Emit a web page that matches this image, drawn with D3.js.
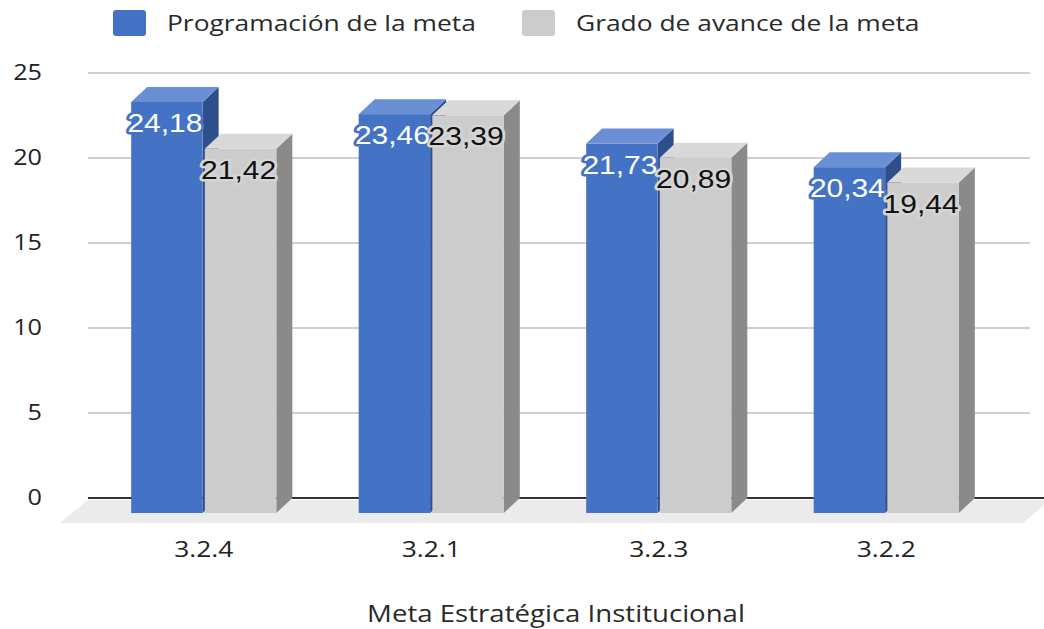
<!DOCTYPE html>
<html lang="es">
<head>
<meta charset="UTF-8">
<script src="https://cdn.jsdelivr.net/npm/d3@7"></script>
<style>
  body { margin: 0; background: #fff; }
  text { font-family: "Open Sans", sans-serif; fill: #222; }
</style>
</head>
<body>
<svg id="chart" width="1044" height="629"></svg>
<script>
// chart data
var categories = ["3.2.4", "3.2.1", "3.2.3", "3.2.2"];
var programacion = [24.18, 23.46, 21.73, 20.34];
var avance = [21.42, 23.39, 20.89, 19.44];
var seriesNames = ["Programación de la meta", "Grado de avance de la meta"];
var yTicks = [0, 5, 10, 15, 20, 25];
var axisTitle = "Meta Estratégica Institucional";

var svg = d3.select("#chart");
var sx = 1.2;          // the picture is a bit wider than tall
var dx = 16, dy = 15;  // 3d depth of the bars

var colors = [
  { front: "#4472c4", side: "#2e4f8c", top: "#6a8fd5", halo: "#4472c4", text: "#fff" },
  { front: "#cccccc", side: "#8a8a8a", top: "#d9d9d9", halo: "#d4d4d4", text: "#111" }
];

var y = d3.scaleLinear().domain([0, 25]).range([498, 73]);
var x = d3.scaleBand().domain(categories).range([90, 1000])
  .paddingInner(0.362).paddingOuter(0.181);
var xs = d3.scaleBand().domain([0, 1]).range([0, x.bandwidth()]).paddingInner(0.03);

// floor
svg.append("polygon")
  .attr("points", "88,500 1050,500 1023,523 60,523")
  .attr("fill", "#ebebeb");

// grid
svg.append("g").selectAll("line")
  .data(yTicks.filter(d => d > 0))
  .enter().append("line")
  .attr("x1", 88).attr("x2", 1030)
  .attr("y1", d => y(d)).attr("y2", d => y(d))
  .attr("stroke", "#cfcfcf").attr("stroke-width", 2);
svg.append("line")
  .attr("x1", 88).attr("x2", 1044)
  .attr("y1", y(0)).attr("y2", y(0))
  .attr("stroke", "#333").attr("stroke-width", 2);

// y axis labels
var yAxis = svg.append("g").attr("transform", "translate(42,0)")
  .call(d3.axisLeft(y).tickValues(yTicks).tickSize(0).tickPadding(0));
yAxis.select(".domain").remove();
yAxis.selectAll("text")
  .attr("x", 0)
  .attr("transform", "scale(" + sx + ",1)")
  .style("font-size", "21px").style("font-family", "'Open Sans', sans-serif")
  .attr("fill", "#1a1a1a");

// x axis labels
var xAxis = svg.append("g").attr("transform", "translate(0,541)")
  .call(d3.axisBottom(x).tickSize(0).tickPadding(0));
xAxis.select(".domain").remove();
xAxis.selectAll("text")
  .attr("transform", "scale(" + sx + ",1)")
  .style("font-size", "22px").style("font-family", "'Open Sans', sans-serif")
  .attr("fill", "#1a1a1a");

// bars
var series = [programacion, avance];
var bars = svg.append("g");
categories.forEach((c, i) => {
  series.forEach((vals, s) => {
    var x0 = x(c) + xs(s), x1 = x0 + xs.bandwidth();
    var ft = y(vals[i]) + dy, fb = y(0) + dy;
    var col = colors[s];
    var g = bars.append("g");
    g.append("polygon")
      .attr("points", [[x1, ft], [x1 + dx, ft - dy], [x1 + dx, fb - dy], [x1, fb]].join(" "))
      .attr("fill", col.side);
    g.append("polygon")
      .attr("points", [[x0, ft], [x0 + dx, ft - dy], [x1 + dx, ft - dy], [x1, ft]].join(" "))
      .attr("fill", col.top);
    g.append("rect")
      .attr("x", x0).attr("y", ft)
      .attr("width", x1 - x0).attr("height", fb - ft)
      .attr("fill", col.front);
  });
});

// value labels
var fmt = v => d3.format(".2f")(v).replace(".", ",");
series.forEach((vals, s) => {
  categories.forEach((c, i) => {
    var cx = x(c) + xs(s) + xs.bandwidth() / 2 - 2;
    var ty = y(vals[i]) + dy + 30;
    svg.append("text")
      .attr("transform", "translate(" + cx + "," + ty + ") scale(" + sx + ",1)")
      .attr("text-anchor", "middle")
      .style("font-family", "'Liberation Sans', Arial, sans-serif")
      .style("font-size", "25px")
      .style("fill", colors[s].text)
      .style("stroke", colors[s].halo)
      .style("stroke-width", 5)
      .style("stroke-linejoin", "round")
      .style("paint-order", "stroke")
      .text(fmt(vals[i]));
  });
});

// legend
var legendX = [113, 522];
seriesNames.forEach((name, s) => {
  svg.append("rect")
    .attr("x", legendX[s]).attr("y", 10)
    .attr("width", 33).attr("height", 26).attr("rx", 3)
    .attr("fill", colors[s].front);
  svg.append("text")
    .attr("transform", "translate(" + (legendX[s] + 54) + ",31) scale(" + sx + ",1)")
    .style("font-size", "22px")
    .style("fill", "#2a2a2a")
    .text(name);
});

// axis title
svg.append("text")
  .attr("transform", "translate(556,622) scale(" + sx + ",1)")
  .attr("text-anchor", "middle")
  .style("font-size", "23px")
  .style("fill", "#2a2a2a")
  .text(axisTitle);
</script>
</body>
</html>
